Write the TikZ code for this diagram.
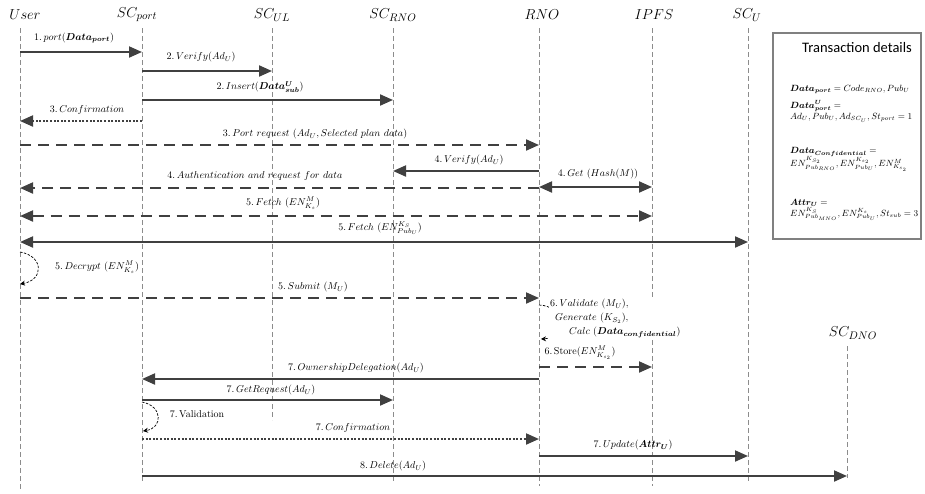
\documentclass[tikz,border=0pt]{standalone}
\usepackage{amsmath,amssymb}
\usepackage{bm}
\usepackage{fontspec}
\newfontfamily\titlefont{Carlito}
\usepackage{tikz}
\usetikzlibrary{arrows.meta}

\definecolor{msggray}{HTML}{404040}
\definecolor{lifegray}{HTML}{8C8C8C}
\definecolor{boxgray}{HTML}{808080}

\tikzset{
  head/.style={font=\fontsize{15}{17}\selectfont, inner sep=1pt},
  lbl/.style={font=\fontsize{10}{12}\selectfont, inner sep=1pt},
  boxtxt/.style={font=\fontsize{9}{11}\selectfont, inner sep=0pt, anchor=west},
  life/.style={draw=lifegray, line width=0.6pt, dash pattern=on 5pt off 3pt},
  solidmsg/.style={draw=msggray, line width=2pt},
  dashmsg/.style={draw=msggray, line width=2pt, dash pattern=on 11pt off 7pt},
  dotmsg/.style={draw=msggray, line width=2pt, dash pattern=on 2pt off 1.6pt},
  selfloop/.style={draw=black, line width=0.7pt, dash pattern=on 2.5pt off 1.5pt, -{Stealth[length=5pt,width=5pt]}}
}

\begin{document}
\begin{tikzpicture}[x=1pt, y=-1pt, >={Triangle[length=13pt,width=11pt]}]
\useasboundingbox (0,0) rectangle (925,493);

\node[head] (user) at (25,15) {$User$};
\node[head] (scport) at (137,15) {$SC_{port}$};
\node[head] (scul) at (272,15) {$SC_{UL}$};
\node[head] (scrno) at (393,15) {$SC_{RNO}$};
\node[head] (rno) at (542,15) {$RNO$};
\node[head] (ipfs) at (654,15) {$IPFS$};
\node[head] (scu) at (747,15) {$SC_U$};
\node[head] (scdno) at (853,333) {$SC_{DNO}$};

\coordinate (userL) at (20,28);
\coordinate (portL) at (142,28);
\coordinate (ulL) at (272,28);
\coordinate (scrnoL) at (393,28);
\coordinate (rnoL) at (539,28);
\coordinate (ipfsL) at (652,28);
\coordinate (scuL) at (748,28);
\coordinate (dnoL) at (847,346);

\draw[life] (userL) -- (userL |- 0,490);
\draw[life] (portL) -- (portL |- 0,483);
\draw[life] (ulL) -- (ulL |- 0,420);
\draw[life] (scrnoL) -- (scrnoL |- 0,482);
\draw[life] (rnoL) -- (rnoL |- 0,486);
\draw[life] (ipfsL) -- (ipfsL |- 0,486);
\draw[life] (scuL) -- (scuL |- 0,482);
\draw[life] (dnoL) -- (dnoL |- 0,478);

\draw[solidmsg,->] (userL |- 0,52) -- (portL |- 0,52);
\node[lbl] (m1) at (74,38) {$1.\,port(\bm{Data_{port}})$};
\draw[solidmsg,->] (portL |- 0,71) -- (ulL |- 0,71);
\node[lbl] (m2) at (201,57) {$2.\,Verify(Ad_U)$};
\draw[solidmsg,->] (portL |- 0,100) -- (scrnoL |- 0,100);
\node[lbl] (m3) at (260,87) {$2.\,Insert(\bm{Data^{U}_{sub}})$};
\draw[dotmsg,->] (portL |- 0,121) -- (userL |- 0,121);
\node[lbl] (m4) at (87,110) {$3.\,Confirmation$};

\draw[dashmsg,->] (userL |- 0,145) -- (rnoL |- 0,145);
\node[lbl] (m5) at (315,134) {$3.\,Port\ request\ (Ad_U, Selected\ plan\ data)$};
\draw[solidmsg,->] (rnoL |- 0,171) -- (scrnoL |- 0,171);
\node[lbl] (m6) at (469,160) {$4.\,Verify(Ad_U)$};
\draw[dashmsg,->] (rnoL |- 0,188) -- (userL |- 0,188);
\node[lbl] (m7) at (255,176) {$4.\,Authentication\ and\ request\ for\ data$};
\draw[solidmsg,<->] (rnoL |- 0,187) -- (ipfsL |- 0,187);
\node[lbl] (m8) at (598,174) {$4.\,Get\ (Hash(M))$};
\draw[dashmsg,<->] (userL |- 0,216) -- (ipfsL |- 0,216);
\node[lbl] (m9) at (283,203) {$5.\,Fetch\ (EN^{M}_{K_s})$};
\draw[solidmsg,<->] (userL |- 0,242) -- (scuL |- 0,242);
\node[lbl] (m10) at (380,228) {$5.\,Fetch\ (EN^{K_S}_{Pub_U})$};

\draw[selfloop] (userL |- 0,252) .. controls (44,256) and (44,280) .. (userL |- 0,284);
\node[lbl] (m11) at (97,267) {$5.\,Decrypt\ (EN^{M}_{K_s})$};
\draw[dashmsg,->] (userL |- 0,298) -- (rnoL |- 0,298);
\node[lbl] (m12) at (313,287) {$5.\,Submit\ (M_U)$};

\draw[selfloop] (rnoL |- 0,305) .. controls (566,306) and (566,338) .. (541,339);
\node[lbl, fill=white, align=left, anchor=north west, font=\fontsize{10}{14}\selectfont] (m13) at (549,298)
  {$6.\,Validate\ (M_U),$\\ \hspace*{5pt}$Generate\ (K_{S_2}),$\\ \hspace*{19pt}$Calc\ (\bm{Data_{confidential}})$};

\draw[dashmsg,->] (rnoL |- 0,367) -- (ipfsL |- 0,367);
\node[lbl] (m14) at (580,353) {6.\,Store($EN^{M}_{K_{s_2}}$)};
\draw[solidmsg,->] (rnoL |- 0,379) -- (portL |- 0,379);
\node[lbl] (m15) at (356,368) {$7.\,OwnershipDelegation(Ad_U)$};
\draw[solidmsg,->] (portL |- 0,400) -- (scrnoL |- 0,400);
\node[lbl] (m16) at (271,390) {$7.\,GetRequest(Ad_U)$};
\draw[selfloop] (portL |- 0,402) .. controls (163,406) and (163,428) .. (143,431);
\node[lbl] (m17) at (197,414) {7.\,Validation};
\draw[dotmsg,->] (portL |- 0,439) -- (rnoL |- 0,439);
\node[lbl] (m18) at (353,428) {$7.\,Confirmation$};
\draw[solidmsg,->] (rnoL |- 0,456) -- (scuL |- 0,456);
\node[lbl] (m19) at (633,445) {$7.\,Update(\bm{Attr_U})$};
\draw[solidmsg,->] (portL |- 0,476) -- (dnoL |- 0,476);
\node[lbl] (m20) at (393,466) {$8.\,Delete(Ad_U)$};

\node[draw=boxgray, line width=1.2pt, minimum width=148pt, minimum height=206pt, inner sep=0pt] (details) at (847,136) {};
\node[font=\titlefont\fontsize{14.5}{16}\selectfont] (title) at (857,48) {Transaction details};
\node[boxtxt] (d1) at (790,89) {$\bm{Data_{port}} = Code_{RNO}, Pub_U$};
\node[boxtxt] (d2) at (790,106) {$\bm{Data^{U}_{port}} =$};
\node[boxtxt] (d3) at (790,118) {$Ad_U, Pub_U, Ad_{SC_U}, St_{port} = 1$};
\node[boxtxt] (d4) at (790,152) {$\bm{Data_{Confidential}} =$};
\node[boxtxt] (d5) at (790,164) {$EN^{K_{S_2}}_{Pub_{RNO}}, EN^{K_{s_2}}_{Pub_U}, EN^{M}_{K_{s_2}}$};
\node[boxtxt] (d6) at (790,203) {$\bm{Attr_U} =$};
\node[boxtxt] (d7) at (790,214) {$EN^{K_S}_{Pub_{MNO}}, EN^{K_s}_{Pub_U}, St_{sub} = 3$};
\end{tikzpicture}
\end{document}
